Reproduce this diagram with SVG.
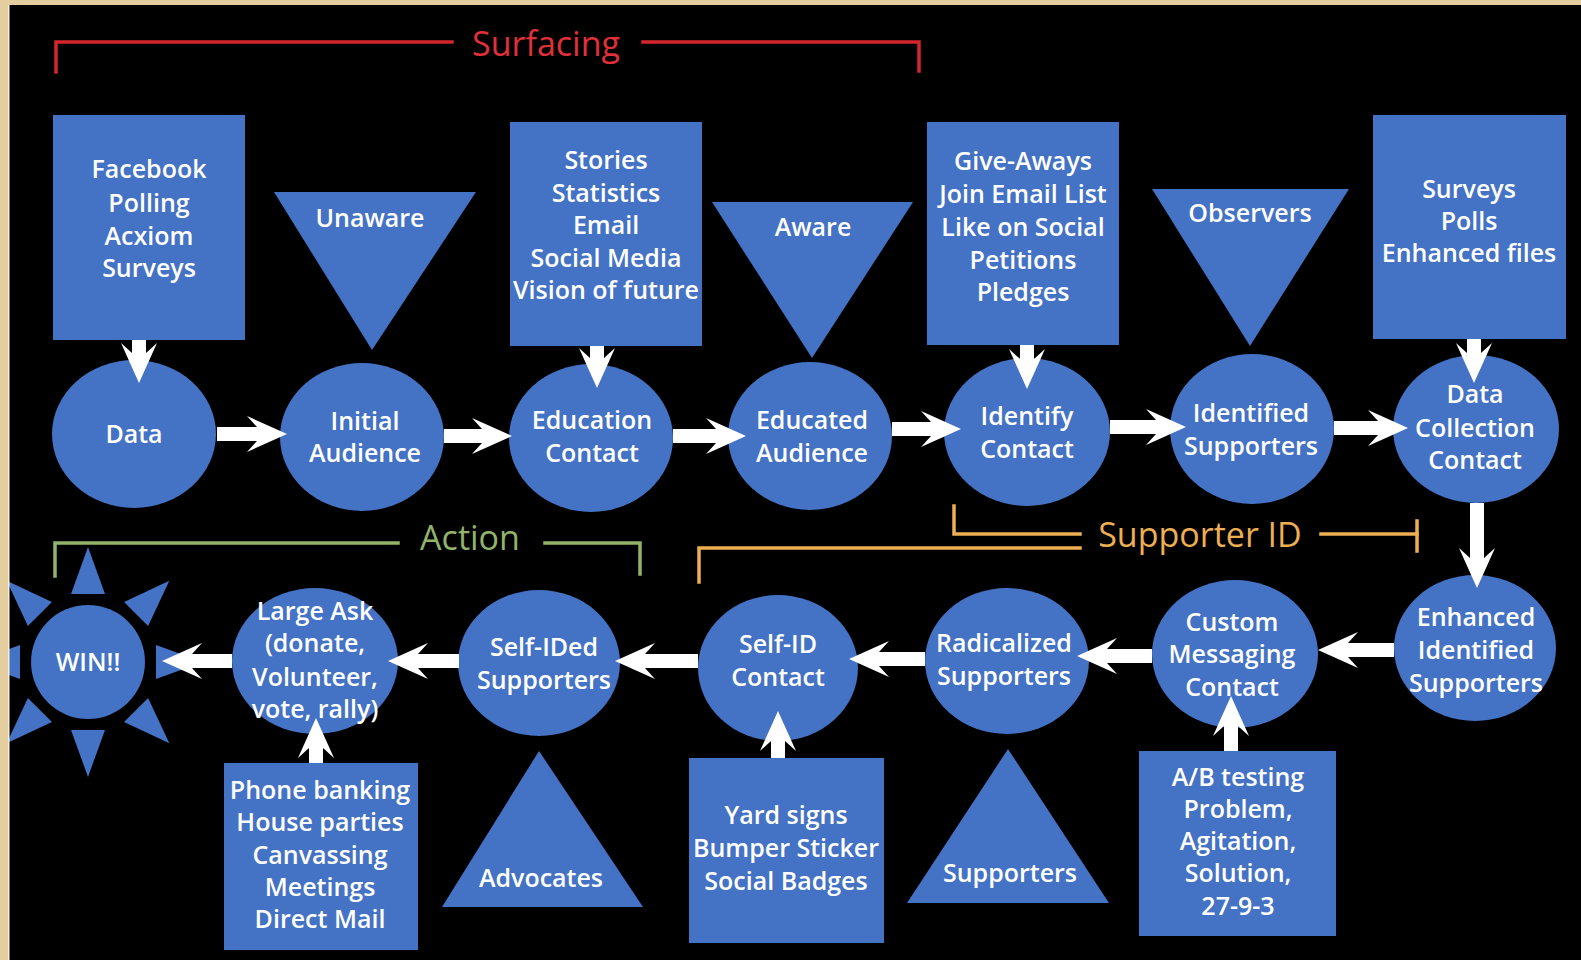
<svg xmlns="http://www.w3.org/2000/svg" width="1581" height="960" viewBox="0 0 1581 960">
<style>
.bg{fill:#000}
.parch{fill:#E4CD9E}
.n{fill:#4472C4}
.t{fill:#FFFFFF;font-family:"Open Sans","Liberation Sans",sans-serif;font-weight:600;font-size:25px;text-anchor:middle}
.c{stroke:#FFFFFF;stroke-width:14;fill:none;marker-end:url(#ah)}
.br{fill:none;stroke-width:3.5;stroke-linecap:square}
.lbl{font-family:"Open Sans","Liberation Sans",sans-serif;font-size:34px;text-anchor:middle}
</style>
<defs>
<marker id="ah" markerUnits="userSpaceOnUse" markerWidth="44" markerHeight="40" viewBox="-12 -20 44 40" refX="0" refY="0" orient="auto" overflow="visible">
<path d="M0,-7 L-10,-18 L30,0 L-10,18 L0,7 Z" fill="#FFFFFF"/>
</marker>
</defs>
<rect class="bg" x="0" y="0" width="1581" height="960"/>

<g id="brackets">
<g id="surfacing">
<polyline class="br" stroke="#D4262C" points="56,72 56,42 452,42"/>
<polyline class="br" stroke="#D4262C" points="643,42 919,42 919,71"/>
<text class="lbl" fill="#E0303A" x="546" y="56">Surfacing</text>
</g>
<g id="supporter-id">
<polyline class="br" stroke="#EDAF52" points="954,506 954,534 1080,534"/>
<polyline class="br" stroke="#EDAF52" points="699,582 699,548 1080,548"/>
<polyline class="br" stroke="#EDAF52" points="1321,534 1417,534"/>
<line class="br" stroke="#EDAF52" x1="1417" y1="521" x2="1417" y2="551"/>
<text class="lbl" fill="#EDAF52" x="1200" y="547">Supporter ID</text>
</g>
<g id="action">
<polyline class="br" stroke="#92B46A" points="55,576 55,543 398,543"/>
<polyline class="br" stroke="#92B46A" points="545,543 640,543 640,574"/>
<text class="lbl" fill="#92B46A" x="470" y="550">Action</text>
</g>
</g>

<g id="box-sources">
<rect class="n" x="53" y="115" width="192" height="225"/>
<text class="t" x="149" y="178">Facebook</text>
<text class="t" x="149" y="212">Polling</text>
<text class="t" x="149" y="245">Acxiom</text>
<text class="t" x="149" y="277">Surveys</text>
</g>
<g id="box-stories">
<rect class="n" x="510" y="122" width="192" height="224"/>
<text class="t" x="606" y="169">Stories</text>
<text class="t" x="606" y="202">Statistics</text>
<text class="t" x="606" y="234">Email</text>
<text class="t" x="606" y="267">Social Media</text>
<text class="t" x="606" y="299">Vision of future</text>
</g>
<g id="box-giveaways">
<rect class="n" x="927" y="122" width="192" height="223"/>
<text class="t" x="1023" y="170">Give-Aways</text>
<text class="t" x="1023" y="203">Join Email List</text>
<text class="t" x="1023" y="236">Like on Social</text>
<text class="t" x="1023" y="269">Petitions</text>
<text class="t" x="1023" y="301">Pledges</text>
</g>
<g id="box-surveys">
<rect class="n" x="1373" y="115" width="193" height="224"/>
<text class="t" x="1469" y="198">Surveys</text>
<text class="t" x="1469" y="230">Polls</text>
<text class="t" x="1469" y="262">Enhanced files</text>
</g>

<g id="tri-unaware">
<polygon class="n" points="274,192 476,192 372,350"/>
<text class="t" x="370" y="227">Unaware</text>
</g>
<g id="tri-aware">
<polygon class="n" points="712,202 913,202 812,358"/>
<text class="t" x="813" y="236">Aware</text>
</g>
<g id="tri-observers">
<polygon class="n" points="1152,189 1349,189 1250,346"/>
<text class="t" x="1250" y="222">Observers</text>
</g>

<g id="data">
<ellipse class="n" cx="134" cy="434" rx="82" ry="74"/>
<text class="t" x="134" y="443">Data</text>
</g>
<g id="initial-audience">
<ellipse class="n" cx="362" cy="437" rx="82" ry="74"/>
<text class="t" x="365" y="430">Initial</text>
<text class="t" x="365" y="462">Audience</text>
</g>
<g id="education-contact">
<ellipse class="n" cx="591" cy="438" rx="82" ry="74"/>
<text class="t" x="592" y="429">Education</text>
<text class="t" x="592" y="462">Contact</text>
</g>
<g id="educated-audience">
<ellipse class="n" cx="810" cy="436" rx="82" ry="74"/>
<text class="t" x="812" y="429">Educated</text>
<text class="t" x="812" y="462">Audience</text>
</g>
<g id="identify-contact">
<ellipse class="n" cx="1027" cy="432" rx="83" ry="74"/>
<text class="t" x="1027" y="425">Identify</text>
<text class="t" x="1027" y="458">Contact</text>
</g>
<g id="identified-supporters">
<ellipse class="n" cx="1252" cy="429" rx="82" ry="75"/>
<text class="t" x="1251" y="422">Identified</text>
<text class="t" x="1251" y="455">Supporters</text>
</g>
<g id="data-collection-contact">
<ellipse class="n" cx="1476" cy="429" rx="83" ry="74"/>
<text class="t" x="1475" y="403">Data</text>
<text class="t" x="1475" y="437">Collection</text>
<text class="t" x="1475" y="469">Contact</text>
</g>

<g id="enhanced-identified-supporters">
<ellipse class="n" cx="1475" cy="648" rx="81" ry="73"/>
<text class="t" x="1476" y="626">Enhanced</text>
<text class="t" x="1476" y="659">Identified</text>
<text class="t" x="1476" y="692">Supporters</text>
</g>
<g id="custom-messaging-contact">
<ellipse class="n" cx="1235" cy="654" rx="83" ry="74"/>
<text class="t" x="1232" y="631">Custom</text>
<text class="t" x="1232" y="663">Messaging</text>
<text class="t" x="1232" y="696">Contact</text>
</g>
<g id="radicalized-supporters">
<ellipse class="n" cx="1007" cy="661" rx="82" ry="73"/>
<text class="t" x="1004" y="652">Radicalized</text>
<text class="t" x="1004" y="685">Supporters</text>
</g>
<g id="self-id-contact">
<ellipse class="n" cx="778" cy="668" rx="80" ry="73"/>
<text class="t" x="778" y="653">Self-ID</text>
<text class="t" x="778" y="686">Contact</text>
</g>
<g id="self-ided-supporters">
<ellipse class="n" cx="539" cy="663" rx="81" ry="73"/>
<text class="t" x="544" y="656">Self-IDed</text>
<text class="t" x="544" y="689">Supporters</text>
</g>
<g id="large-ask">
<ellipse class="n" cx="315" cy="661" rx="83" ry="73"/>
<text class="t" x="315" y="620">Large Ask</text>
<text class="t" x="315" y="652">(donate,</text>
<text class="t" x="315" y="686">Volunteer,</text>
<text class="t" x="315" y="718">vote, rally)</text>
</g>
<g id="win">
<circle class="n" cx="88" cy="662" r="57"/>
<polygon class="n" points="156,645 156,679 203,662"/>
<polygon class="n" points="71,730 105,730 88,777"/>
<polygon class="n" points="20,645 20,679 -27,662"/>
<polygon class="n" points="71,594 105,594 88,547"/>
<polygon class="n" points="124.06,722.1 148.1,698.06 169.32,743.32"/>
<polygon class="n" points="27.9,698.06 51.94,722.1 6.68,743.32"/>
<polygon class="n" points="51.94,601.9 27.9,625.94 6.68,580.68"/>
<polygon class="n" points="148.1,625.94 124.06,601.9 169.32,580.68"/>
<text class="t" x="88" y="671" font-size="26">WIN!!</text>
</g>

<g id="box-phone">
<rect class="n" x="224" y="763" width="194" height="187"/>
<text class="t" x="320" y="799">Phone banking</text>
<text class="t" x="320" y="831">House parties</text>
<text class="t" x="320" y="864">Canvassing</text>
<text class="t" x="320" y="896">Meetings</text>
<text class="t" x="320" y="928">Direct Mail</text>
</g>
<g id="box-yard">
<rect class="n" x="689" y="758" width="195" height="185"/>
<text class="t" x="786" y="824">Yard signs</text>
<text class="t" x="786" y="857">Bumper Sticker</text>
<text class="t" x="786" y="890">Social Badges</text>
</g>
<g id="box-ab">
<rect class="n" x="1139" y="751" width="197" height="185"/>
<text class="t" x="1238" y="786">A/B testing</text>
<text class="t" x="1238" y="818">Problem,</text>
<text class="t" x="1238" y="850">Agitation,</text>
<text class="t" x="1238" y="882">Solution,</text>
<text class="t" x="1238" y="915">27-9-3</text>
</g>
<g id="tri-advocates">
<polygon class="n" points="539,751 643,907 442,907"/>
<text class="t" x="541" y="887">Advocates</text>
</g>
<g id="tri-supporters">
<polygon class="n" points="1008,749 1109,903 907,903"/>
<text class="t" x="1010" y="882">Supporters</text>
</g>

<g id="connectors">
<line class="c" x1="217" y1="434" x2="257" y2="434"/>
<line class="c" x1="444" y1="436" x2="482" y2="436"/>
<line class="c" x1="673" y1="436" x2="716" y2="436"/>
<line class="c" x1="892" y1="429" x2="931" y2="429"/>
<line class="c" x1="1110" y1="427" x2="1156" y2="427"/>
<line class="c" x1="1334" y1="428" x2="1378" y2="428"/>
<line class="c" x1="139" y1="340" x2="139" y2="353"/>
<line class="c" x1="597" y1="346" x2="597" y2="358"/>
<line class="c" x1="1027" y1="345" x2="1027" y2="359"/>
<line class="c" x1="1474" y1="339" x2="1474" y2="353"/>
<line class="c" x1="1477" y1="503" x2="1477" y2="558"/>
<line class="c" x1="1394" y1="650" x2="1348" y2="650"/>
<line class="c" x1="1152" y1="656" x2="1107" y2="656"/>
<line class="c" x1="925" y1="659" x2="879" y2="659"/>
<line class="c" x1="698" y1="661" x2="645" y2="661"/>
<line class="c" x1="459" y1="661" x2="418" y2="661"/>
<line class="c" x1="232" y1="661" x2="192" y2="661"/>
<line class="c" x1="316" y1="763" x2="316" y2="748"/>
<line class="c" x1="778" y1="758" x2="778" y2="741"/>
<line class="c" x1="1231" y1="751" x2="1231" y2="726"/>
</g>

<g id="frame">
<rect class="parch" x="0" y="0" width="8" height="960"/>
<rect class="parch" x="0" y="0" width="1581" height="5"/>
<line x1="8.75" y1="5" x2="8.75" y2="960" stroke="#F6EEDC" stroke-width="1.5"/>
</g>
</svg>
